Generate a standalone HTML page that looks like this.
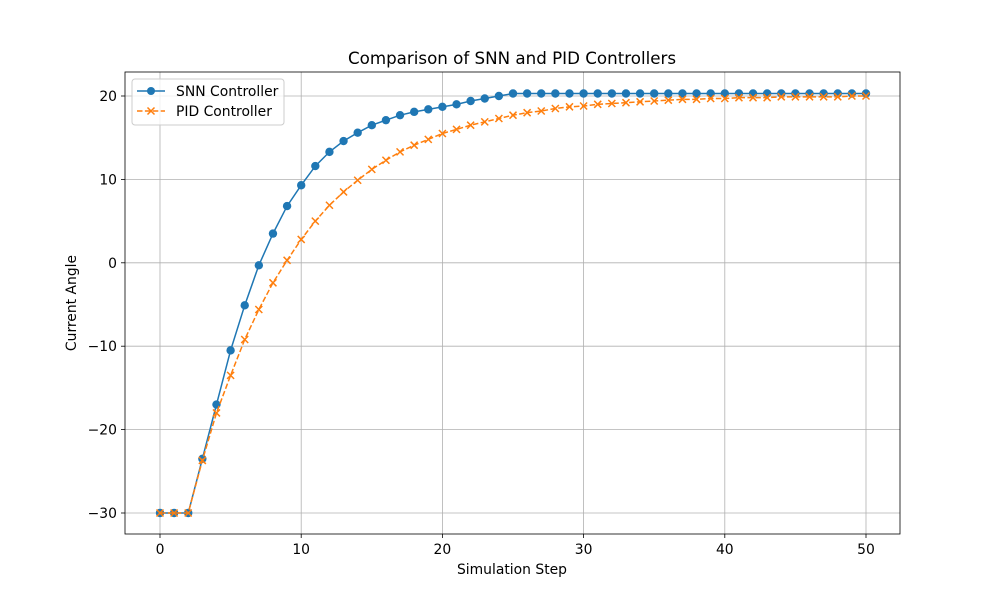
<!DOCTYPE html>
<html><head><meta charset="utf-8"><style>
body{margin:0;background:#fff;}
svg{display:block;font-family:"DejaVu Sans","Liberation Sans",sans-serif;}
</style></head><body>
<svg id="chart" width="1000" height="600" viewBox="0 0 1000 600">
<rect x="0" y="0" width="1000" height="600" fill="#fff"/>
<g id="grid"></g>
<g id="ticks"></g>
<g id="series"></g>
<rect x="125" y="72" width="775" height="462" fill="none" stroke="#000" stroke-width="0.8"/>
<text x="512" y="64" font-size="16.7" text-anchor="middle">Comparison of SNN and PID Controllers</text>
<text x="512" y="574" font-size="13.9" text-anchor="middle">Simulation Step</text>
<text x="76" y="303" font-size="13.9" text-anchor="middle" transform="rotate(-90 76 303)">Current Angle</text>
<g>
<rect x="132" y="79" width="152" height="46" rx="3" fill="#fff" fill-opacity="0.8" stroke="#ccc"/>
<line x1="137" y1="91" x2="165" y2="91" stroke="#1f77b4" stroke-width="1.5"/>
<circle cx="151" cy="91" r="4" fill="#1f77b4"/>
<text x="176" y="96" font-size="13.9">SNN Controller</text>
<line x1="137" y1="111" x2="165" y2="111" stroke="#ff7f0e" stroke-width="1.5" stroke-dasharray="5.5,2.4"/>
<path d="M147.5 107.5l7 7M154.5 107.5l-7 7" stroke="#ff7f0e" stroke-width="1.5"/>
<text x="176" y="116" font-size="13.9">PID Controller</text>
</g>
</svg>
<script>
const steps = Array.from({length:51},(_,i)=>i);
const snnValues = [-30,-30,-30,-23.5,-17,-10.5,-5.1,-0.3,3.5,6.8,9.3,11.6,13.3,14.6,15.6,16.5,17.1,17.7,18.1,18.4,18.7,19.0,19.4,19.7,20.0,20.3,20.3,20.3,20.3,20.3,20.3,20.3,20.3,20.3,20.3,20.3,20.3,20.3,20.3,20.3,20.3,20.3,20.3,20.3,20.3,20.3,20.3,20.3,20.3,20.3,20.3];
const pidValues = [-30,-30,-30,-23.7,-18,-13.5,-9.2,-5.6,-2.4,0.3,2.8,5.0,6.9,8.5,9.9,11.2,12.3,13.3,14.1,14.8,15.5,16.0,16.5,16.9,17.3,17.7,18.0,18.2,18.5,18.7,18.8,19.0,19.1,19.2,19.3,19.4,19.5,19.6,19.6,19.7,19.7,19.8,19.8,19.8,19.9,19.9,19.9,19.9,19.9,20.0,20.0];
const xTicks = [0,10,20,30,40,50];
const yTicks = [-30,-20,-10,0,10,20];
const NS='http://www.w3.org/2000/svg';
const xs = v => 160 + v*(866-160)/50;
const ys = v => 96 + (20-v)*(513-96)/50;
function mk(tag,attrs,parent){const e=document.createElementNS(NS,tag);for(const k in attrs)e.setAttribute(k,attrs[k]);parent.appendChild(e);return e;}
const grid=document.getElementById('grid'), ticks=document.getElementById('ticks'), series=document.getElementById('series');
xTicks.forEach(t=>{const x=xs(t);
 const g=mk('line',{x1:x,x2:x,y1:72,y2:534,stroke:'#b0b0b0','stroke-width':0.8},grid);
 
 
 mk('line',{x1:x,x2:x,y1:534,y2:538,stroke:'#000','stroke-width':0.8},ticks);
 const l=mk('text',{x:x,y:554,'font-size':13.9,'text-anchor':'middle'},ticks);l.textContent=t;
 
 
});
yTicks.forEach(t=>{const y=ys(t);
 const g=mk('line',{x1:125,x2:900,y1:y,y2:y,stroke:'#b0b0b0','stroke-width':0.8},grid);
 
 
 mk('line',{x1:121,x2:125,y1:y,y2:y,stroke:'#000','stroke-width':0.8},ticks);
 const l=mk('text',{x:117,y:y+5,'font-size':13.9,'text-anchor':'end'},ticks);l.textContent=t<0?'\u2212'+(-t):t;
 
 
});
const snnLine=mk('polyline',{points:steps.map((s,i)=>xs(s)+','+ys(snnValues[i])).join(' '),fill:'none',stroke:'#1f77b4','stroke-width':1.5},series);


steps.forEach((s,i)=>{const c=mk('circle',{cx:xs(s),cy:ys(snnValues[i]),r:4.2,fill:'#1f77b4'},series);
 
 });
const pidLine=mk('polyline',{points:steps.map((s,i)=>xs(s)+','+ys(pidValues[i])).join(' '),fill:'none',stroke:'#ff7f0e','stroke-width':1.5,'stroke-dasharray':'5.5,2.4'},series);


steps.forEach((s,i)=>{const x=xs(s),y=ys(pidValues[i]);
 const p=mk('path',{d:`M${x-3.5} ${y-3.5}l7 7M${x+3.5} ${y-3.5}l-7 7`,stroke:'#ff7f0e','stroke-width':1.5},series);
 
 });
</script>
</body></html>
